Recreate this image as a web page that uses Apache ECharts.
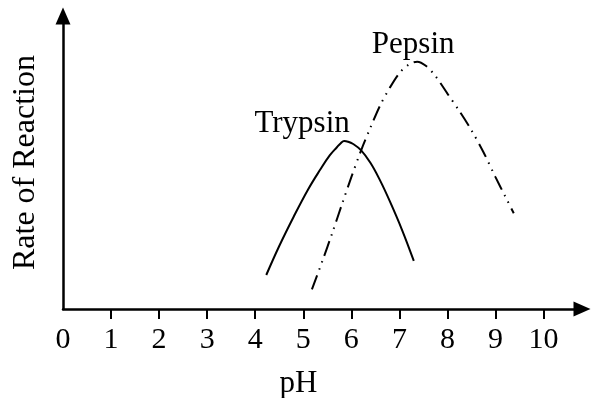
<!DOCTYPE html>
<html>
<head>
<meta charset="utf-8">
<script src="https://cdn.jsdelivr.net/npm/echarts@6/dist/echarts.min.js"></script>
<style>
  html, body { margin: 0; padding: 0; background: #fff; }
  #chart { width: 591px; height: 398px; }
</style>
</head>
<body>
<div id="chart"></div>
<script>
// pH tick positions and labels
const phTicks = [1, 2, 3, 4, 5, 6, 7, 8, 9, 10];
const phLabels = [0, 1, 2, 3, 4, 5, 6, 7, 8, 9, 10];

// Trypsin activity curve: pH and relative rate
const trypsinPH   = [4.23, 4.5, 4.8, 5.1, 5.35, 5.55, 5.7, 5.78, 5.85, 5.93, 6.03, 6.2, 6.4, 6.6, 6.8, 7.05, 7.3];
const trypsinRate = [11.6, 21.5, 31.5, 40.8, 47.5, 52.4, 55.2, 56.6, 57.3, 57.1, 56.4, 54.2, 49.8, 43.8, 36.8, 27.2, 16.4];

// Pepsin activity curve: pH and relative rate
const pepsinPH   = [5.18, 5.4, 5.6, 5.8, 6.0, 6.2, 6.4, 6.6, 6.8, 7.0, 7.2, 7.37, 7.55, 7.75, 8.0, 8.25, 8.5, 8.75, 9.0, 9.2, 9.38];
const pepsinRate = [6.7, 16.5, 25.8, 35.5, 45.0, 54.0, 62.0, 69.5, 75.5, 80.5, 83.5, 84.4, 83.0, 79.5, 73.5, 67.5, 61.0, 53.5, 45.0, 38.5, 32.7];

const FONT = 'Liberation Serif';
const zip = (xs, ys) => xs.map((x, i) => [x, ys[i]]);
const peakOf = (xs, ys) => { const i = ys.indexOf(Math.max(...ys)); return [xs[i], ys[i]]; };

const chart = echarts.init(document.getElementById('chart'), null, { renderer: 'canvas' });

const labelStyle = { show: true, color: '#000', fontFamily: FONT, fontSize: 31 };

chart.setOption({
  animation: false,
  backgroundColor: '#fff',
  grid: { left: 63, top: 16, right: 9, bottom: 89, containLabel: false, outerBoundsMode: 'none' },
  xAxis: {
    type: 'value',
    min: 0,
    max: 10.8,
    interval: 1,
    name: 'pH',
    nameLocation: 'middle',
    nameGap: 59,
    nameTextStyle: { color: '#000', fontFamily: FONT, fontSize: 31, padding: [0, 48, 0, 0] },
    axisLine: {
      show: true,
      symbol: ['none', 'triangle'],
      symbolSize: [15, 17],
      lineStyle: { color: '#000', width: 2.5 }
    },
    axisTick: { show: true, customValues: phTicks, length: 10, lineStyle: { color: '#000', width: 2 } },
    axisLabel: { show: true, customValues: phLabels, margin: 16, color: '#000', fontFamily: FONT, fontSize: 30 },
    splitLine: { show: false }
  },
  yAxis: {
    type: 'value',
    min: 0,
    max: 100,
    name: 'Rate of Reaction',
    nameLocation: 'middle',
    nameGap: 21,
    nameTextStyle: { color: '#000', fontFamily: FONT, fontSize: 32 },
    axisLine: {
      show: true,
      symbol: ['none', 'triangle'],
      symbolSize: [15, 17],
      lineStyle: { color: '#000', width: 2.5 }
    },
    axisTick: { show: false },
    axisLabel: { show: false },
    splitLine: { show: false }
  },
  series: [
    {
      name: 'Trypsin',
      type: 'line',
      data: zip(trypsinPH, trypsinRate),
      smooth: 0.4,
      showSymbol: false,
      lineStyle: { color: '#000', width: 2 },
      markPoint: {
        symbol: 'circle',
        symbolSize: 0,
        label: Object.assign({}, labelStyle, { formatter: 'Trypsin', offset: [-42, -17] }),
        data: [{ coord: peakOf(trypsinPH, trypsinRate) }]
      }
    },
    {
      name: 'Pepsin',
      type: 'line',
      data: zip(pepsinPH, pepsinRate),
      smooth: 0.3,
      showSymbol: false,
      lineStyle: { color: '#000', width: 2, type: [15, 6, 1.5, 6, 1.5, 6], cap: 'butt' },
      markPoint: {
        symbol: 'circle',
        symbolSize: 0,
        label: Object.assign({}, labelStyle, { formatter: 'Pepsin', offset: [-4, -17] }),
        data: [{ coord: peakOf(pepsinPH, pepsinRate) }]
      }
    }
  ]
});
</script>
</body>
</html>
